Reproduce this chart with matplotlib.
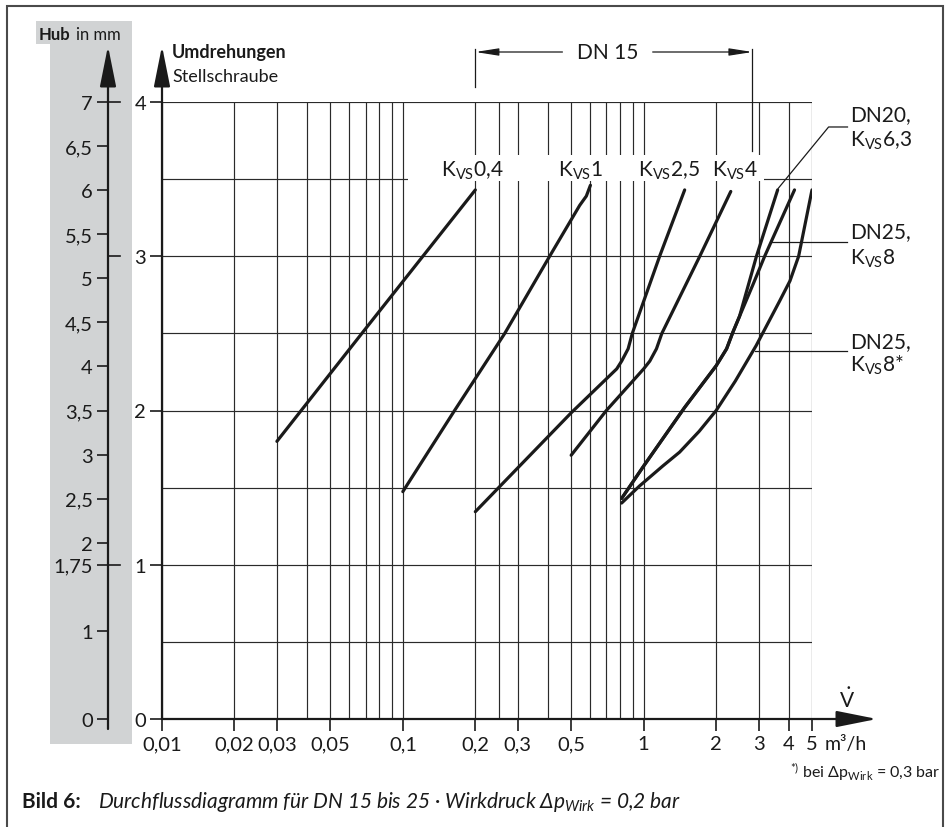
import matplotlib
matplotlib.use('Agg')
import matplotlib.pyplot as plt
from matplotlib.patches import Rectangle
from matplotlib.ticker import FixedLocator, FixedFormatter, NullFormatter

W, H = 949, 828
plt.rcParams['font.family'] = ['Lato', 'DejaVu Sans']
plt.rcParams['mathtext.fontset'] = 'custom'
plt.rcParams['mathtext.rm'] = 'Lato'
plt.rcParams['mathtext.it'] = 'Lato:italic'
plt.rcParams['mathtext.bf'] = 'Lato:bold'
plt.rcParams['mathtext.default'] = 'regular'

# ---------------- data ----------------
x_tick_vals = [0.01, 0.02, 0.03, 0.05, 0.1, 0.2, 0.3, 0.5, 1, 2, 3, 4, 5]
x_tick_labels = ['0,01', '0,02', '0,03', '0,05', '0,1', '0,2', '0,3', '0,5',
                 '1', '2', '3', '4', '5']
x_grid_minor = [0.04, 0.06, 0.07, 0.08, 0.09, 0.25, 0.4, 0.6, 0.7, 0.8, 0.9]
y_tick_vals = [0, 1, 2, 3, 4]
y_tick_labels = ['0', '1', '2', '3', '4']
y_grid_minor = [0.5, 1.5, 2.5, 3.5]
hub_tick_vals = [0, 1, 1.75, 2, 2.5, 3, 3.5, 4, 4.5, 5, 5.5, 6, 6.5, 7]
hub_tick_labels = ['0', '1', '1,75', '2', '2,5', '3', '3,5', '4', '4,5',
                   '5', '5,5', '6', '6,5', '7']
hub_per_rev = 1.75
rev_marks = [1, 3, 4]

kvs04_q = [0.03, 0.07, 0.2]
kvs04_rev = [1.80, 2.53, 3.43]

kvs1_q = [0.1, 0.164, 0.265, 0.407, 0.5425, 0.578, 0.601]
kvs1_rev = [1.474, 2.0, 2.5, 3.0, 3.33, 3.39, 3.46]

kvs25_q = [0.2, 0.5, 0.773, 0.81, 0.862, 0.897, 1.165, 1.48]
kvs25_rev = [1.344, 1.985, 2.27, 2.32, 2.40, 2.5, 3.0, 3.43]

kvs4_q = [0.5, 0.7, 0.9, 1.0, 1.06, 1.13, 1.19, 1.71, 2.3]
kvs4_rev = [1.71, 2.0, 2.19, 2.27, 2.32, 2.40, 2.5, 3.0, 3.42]

dn20_q = [0.81, 1.0, 1.48, 2.0, 2.21, 2.35, 2.5, 2.94, 3.6]
dn20_rev = [1.43, 1.64, 2.02, 2.29, 2.40, 2.51, 2.61, 3.0, 3.43]

dn25_q = [0.81, 1.0, 1.48, 2.0, 2.21, 2.35, 2.5, 2.85, 3.18, 4.23]
dn25_rev = [1.43, 1.64, 2.02, 2.29, 2.40, 2.51, 2.61, 2.82, 3.0, 3.43]

dn25s_q = [0.81, 0.96, 1.2, 1.41, 1.7, 2.0, 2.4, 2.93, 3.67, 4.05, 4.4, 5.0]
dn25s_rev = [1.40, 1.51, 1.64, 1.73, 1.865, 2.0, 2.19, 2.42, 2.71, 2.84, 3.0, 3.43]

curves = [(kvs04_q, kvs04_rev), (kvs1_q, kvs1_rev), (kvs25_q, kvs25_rev),
          (kvs4_q, kvs4_rev), (dn20_q, dn20_rev), (dn25_q, dn25_rev),
          (dn25s_q, dn25s_rev)]

# ---------------- figure ----------------
fig = plt.figure(figsize=(W / 100, H / 100), dpi=100)


def F(x, y):
    return (x / W, 1 - y / H)


INK = '#1a1a1a'
GRID = '#2a2a2a'

# frame
fig.add_artist(Rectangle(F(7, 832), (943 - 7) / W, (832 - 7) / H,
                         transform=fig.transFigure, fill=False,
                         ec='#4a4a4a', lw=1.5, zorder=-2))
# grey band for Hub scale
fig.add_artist(Rectangle(F(50, 745), 82 / W, 700 / H, transform=fig.transFigure,
                         fc='#d1d3d4', ec='none', zorder=-1))
fig.add_artist(Rectangle(F(36, 45), 96 / W, 23 / H, transform=fig.transFigure,
                         fc='#d1d3d4', ec='none', zorder=-1))

# main axes
ax = fig.add_axes([162 / W, 1 - 720 / H, 650 / W, 617 / H])
ax.set_xscale('log')
ax.set_xlim(0.01, 5)
ax.set_ylim(0, 4)
ax.patch.set_visible(False)
for s in ax.spines.values():
    s.set_visible(False)
ax.xaxis.set_major_locator(FixedLocator(x_tick_vals))
ax.xaxis.set_major_formatter(FixedFormatter(x_tick_labels))
ax.xaxis.set_minor_locator(FixedLocator(x_grid_minor))
ax.xaxis.set_minor_formatter(NullFormatter())
ax.yaxis.set_major_locator(FixedLocator(y_tick_vals))
ax.yaxis.set_major_formatter(FixedFormatter(y_tick_labels))
ax.yaxis.set_minor_locator(FixedLocator(y_grid_minor))
ax.tick_params(which='major', direction='out', length=8.5, width=1.2,
               color=INK, labelsize=14.5, pad=3, labelcolor=INK)
ax.tick_params(which='minor', length=0)
ax.set_axisbelow(True)
ax.grid(True, which='both', color=GRID, lw=0.85)

# white band behind KVS labels
ax.fill_between([0.105, 3.17], 3.487, 3.656, color='white', lw=0, zorder=1)

for q, r in curves:
    ax.plot(q, r, color=INK, lw=2.3, zorder=3, solid_joinstyle='round',
            solid_capstyle='round')

big_arrow = dict(arrowstyle='-|>,head_length=2.5,head_width=0.5',
                 mutation_scale=10, lw=1.6, color=INK, shrinkA=0, shrinkB=0)
ax.annotate('', xy=(0, (720 - 47) / 617), xytext=(0, 0), xycoords='axes fraction',
            textcoords='axes fraction', arrowprops=big_arrow, annotation_clip=False)
ax.annotate('', xy=(715 / 650, 0), xytext=(0, 0), xycoords='axes fraction',
            textcoords='axes fraction', arrowprops=big_arrow, annotation_clip=False)

# KVS labels
kvs_labels = [(0.1438, 'K$_{VS}$0,4'), (0.44, 'K$_{VS}$1'),
              (0.944, 'K$_{VS}$2,5'), (1.915, 'K$_{VS}$4')]
for xq, t in kvs_labels:
    ax.text(xq, 3.52, t, fontsize=15, color=INK, va='baseline', ha='left', zorder=4)

# DN 15 bracket
yb = (720 - 53) / 154.25
thin = dict(color=INK, lw=0.9, clip_on=False, zorder=4)
ax.plot([0.2, 0.2], [yb + 0.02, (720 - 88) / 154.25], **thin)
ax.plot([2.83, 2.83], [yb + 0.02, (720 - 152) / 154.25], **thin)
small_arrow = dict(arrowstyle='-|>,head_length=1.4,head_width=0.22',
                   mutation_scale=10, lw=0.9, color=INK, shrinkA=0, shrinkB=0)
ax.annotate('', xy=(0.2, yb), xytext=(0.46, yb), arrowprops=small_arrow,
            annotation_clip=False)
ax.annotate('', xy=(2.83, yb), xytext=(1.09, yb), arrowprops=small_arrow,
            annotation_clip=False)
ax.text(0.71, yb, 'DN 15', fontsize=15, ha='center', va='center', color=INK)

# pointer lines
ax.plot([3.62, 5.86, 7.02], [3.44, 3.838, 3.838], **thin)
ax.plot([3.4, 7.02], [3.09, 3.09], **thin)
ax.plot([2.89, 7.02], [2.386, 2.386], **thin)

# right-hand labels
for y, t, va in [(115, 'DN20,', 'center'), (147, 'K$_{VS}$6,3', 'baseline'),
                 (232, 'DN25,', 'center'), (265, 'K$_{VS}$8', 'baseline'),
                 (342, 'DN25,', 'center'), (372, 'K$_{VS}$8*', 'baseline')]:
    fig.text(*F(850, y), t, fontsize=15, va=va, ha='left', color=INK)

# Hub axis
axh = fig.add_axes([108 / W, 1 - 720 / H, 20 / W, 617 / H])
axh.set_ylim(0, 7)
axh.set_xlim(0, 1)
axh.patch.set_visible(False)
for s in axh.spines.values():
    s.set_visible(False)
axh.set_xticks([])
axh.yaxis.set_major_locator(FixedLocator(hub_tick_vals))
axh.yaxis.set_major_formatter(FixedFormatter(hub_tick_labels))
axh.tick_params(axis='y', direction='out', length=8, width=1.2, color=INK,
                labelsize=14.5, pad=3, labelcolor=INK)
axh.annotate('', xy=(0, (720 - 47) / 617), xytext=(0, -10 / 617),
             xycoords='axes fraction', textcoords='axes fraction',
             arrowprops=big_arrow, annotation_clip=False)
for r in rev_marks:
    axh.plot([0, 0.6], [r * hub_per_rev] * 2, color=INK, lw=1.2, clip_on=False)

# axis titles
hub_t = fig.text(*F(39, 40), 'Hub', fontsize=12, weight='bold', va='baseline', color=INK)
fig.text(*F(76, 40), 'in mm', fontsize=12, va='baseline', color=INK)
fig.text(*F(172, 58), 'Umdrehungen', fontsize=13, weight='bold', va='baseline', color=INK)
fig.text(*F(172, 82), 'Stellschraube', fontsize=13, va='baseline', color=INK)

fig.text(*F(847, 700), r'$\dot{V}$', fontsize=15, ha='center', va='center', color=INK)
fig.text(*F(825, 745), 'm³/h', fontsize=14, ha='left', va='center', color=INK)

# caption
fig.text(*F(22, 808), 'Bild 6:', fontsize=15, weight='bold', va='baseline', color=INK)
fig.text(*F(98, 808), r'Durchflussdiagramm für DN 15 bis 25 · Wirkdruck Δp$_{\mathit{Wirk}}$ = 0,2 bar',
         fontsize=15, style='italic', va='baseline', color=INK)
fig.text(*F(941, 778), r'$^{*)}$ bei Δp$_{Wirk}$ = 0,3 bar', fontsize=11.5,
         ha='right', va='baseline', color=INK)

fig.savefig('out.png', dpi=100)
